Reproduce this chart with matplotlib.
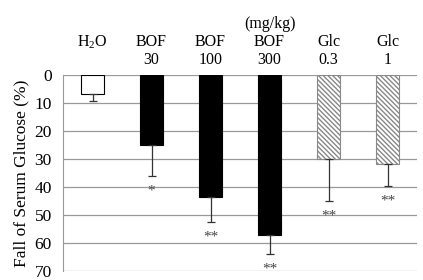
import matplotlib
matplotlib.use('Agg')
from matplotlib import pyplot as plt
import matplotlib.transforms as mtransforms
import numpy as np

plt.rcParams['font.family'] = ['Liberation Serif', 'DejaVu Serif']
plt.rcParams['mathtext.fontset'] = 'custom'
plt.rcParams['mathtext.rm'] = 'Liberation Serif'
plt.rcParams['hatch.linewidth'] = 1.0
plt.rcParams['hatch.color'] = '#333333'

# groups and values
names = [r'H$_2$O', 'BOF', 'BOF', 'BOF', 'Glc', 'Glc']
doses = ['', '30', '100', '300', '0.3', '1']
fall = [6.7, 25.0, 43.4, 57.2, 30.0, 31.8]
err = [2.5, 11.0, 9.0, 6.8, 15.0, 7.8]
marks = ['', '*', '**', '**', '**', '**']
yticks = [0, 10, 20, 30, 40, 50, 60, 70]

fig = plt.figure(figsize=(4.23, 2.8), dpi=100)
ax = fig.add_axes([0.149, 0.032, 0.837, 0.70])

x = np.arange(len(fall))
faces = ['white', 'black', 'black', 'black', 'white', 'white']
edges = ['black', 'black', 'black', 'black', '#888888', '#888888']
hatches = ['', '', '', '', '\\' * 7, '\\' * 7]
for i in range(len(fall)):
    ax.bar(x[i], fall[i], width=0.4, color=faces[i], edgecolor=edges[i],
           hatch=hatches[i], linewidth=0.8, zorder=3)
    ax.errorbar(x[i], fall[i], yerr=[[0], [err[i]]], fmt='none',
                ecolor='#333333', elinewidth=0.9, capsize=3, capthick=0.9, zorder=4)
    if marks[i]:
        ax.annotate(marks[i], (x[i], fall[i] + err[i]), xytext=(0, -11),
                    textcoords='offset points', ha='center', va='center',
                    fontsize=11, color='#444444')

ax.set_xlim(-0.5, len(fall) - 0.5)
ax.set_ylim(70, 0)
ax.set_yticks(yticks)
ax.tick_params(axis='y', length=0, labelsize=12.5, pad=8)
ax.tick_params(axis='x', bottom=False, labelbottom=False)
ax.grid(axis='y', color='#999999', linewidth=0.9, zorder=0)
for s in ['top', 'right', 'bottom']:
    ax.spines[s].set_visible(False)
ax.spines['left'].set_color('#999999')
ax.set_ylabel('Fall of Serum Glucose (%)', fontsize=12.5, labelpad=4)

trans = mtransforms.blended_transform_factory(ax.transData, ax.transAxes)
for i in range(len(fall)):
    ax.text(x[i], 1.17, names[i], transform=trans, ha='center', va='center', fontsize=11.5)
    ax.text(x[i], 1.075, doses[i], transform=trans, ha='center', va='center', fontsize=11.5)
ax.text(3, 1.26, '(mg/kg)', transform=trans, ha='center', va='center', fontsize=11.5)

fig.savefig('out.png', dpi=100)
